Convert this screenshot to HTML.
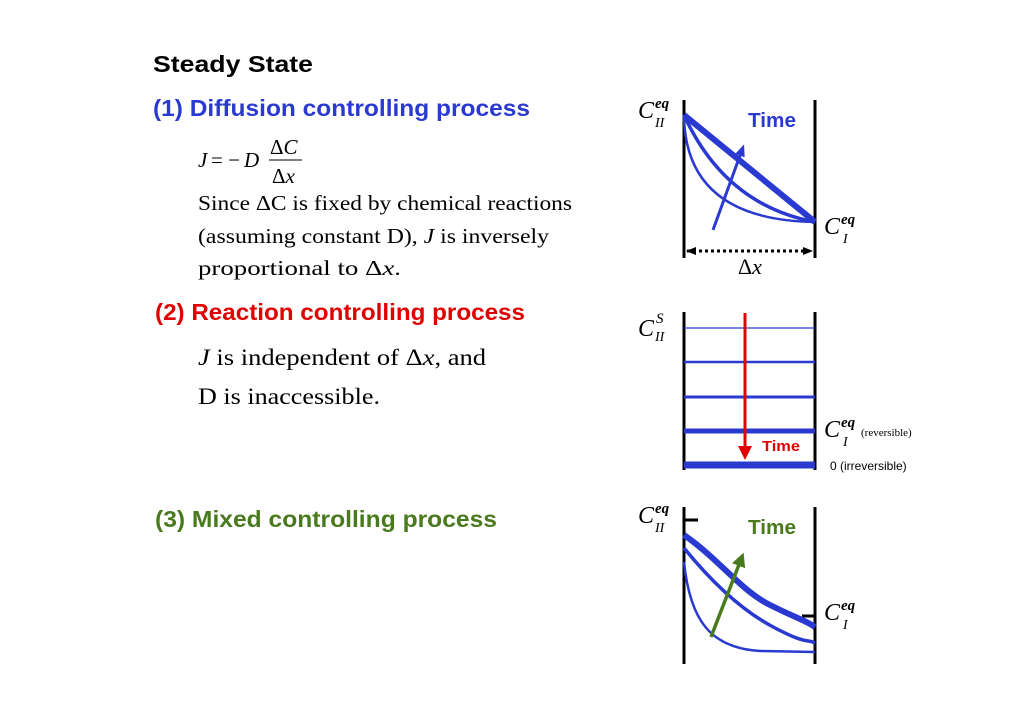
<!DOCTYPE html>
<html><head><meta charset="utf-8"><style>
html,body{margin:0;padding:0;background:#fff;}
svg{display:block;}
.h{font-family:"Liberation Sans",sans-serif;font-weight:bold;font-size:23px;}
.s{font-family:"Liberation Serif",serif;}
.i{font-style:italic;}
</style></head><body>
<svg width="1024" height="724" viewBox="0 0 1024 724" xmlns="http://www.w3.org/2000/svg">
<defs>
<marker id="ab" markerWidth="12" markerHeight="12" refX="6" refY="6" orient="auto" markerUnits="userSpaceOnUse"><path d="M0,1L12,6L0,11z" fill="#2a3ad0"/></marker>
<marker id="ar" markerWidth="14" markerHeight="14" refX="4" refY="7" orient="auto" markerUnits="userSpaceOnUse"><path d="M0,0L14,7L0,14z" fill="#e00000"/></marker>
<marker id="ag" markerWidth="14" markerHeight="14" refX="4" refY="7" orient="auto" markerUnits="userSpaceOnUse"><path d="M0,0L14,7L0,14z" fill="#4a7a1e"/></marker>
<marker id="ak" markerWidth="10" markerHeight="10" refX="9" refY="5" orient="auto-start-reverse" markerUnits="userSpaceOnUse"><path d="M0,1L10,5L0,9z" fill="#000"/></marker>
</defs>
<text class="h" x="153" y="72" textLength="160" lengthAdjust="spacingAndGlyphs" fill="#000">Steady State</text>
<text class="h" x="153" y="116" textLength="377" lengthAdjust="spacingAndGlyphs" fill="#2a3ad0">(1) Diffusion controlling process</text>
<g class="s" font-size="21">
<text x="198" y="167" class="i">J</text><text x="211" y="167">= −</text><text x="244" y="167" class="i">D</text>
<text x="270" y="154">Δ<tspan class="i">C</tspan></text>
<line x1="269" y1="160" x2="302" y2="160" stroke="#000" stroke-width="1"/>
<text x="272" y="183">Δ<tspan class="i">x</tspan></text>
<text x="198" y="210" textLength="374" lengthAdjust="spacingAndGlyphs">Since ΔC is fixed by chemical reactions</text>
<text x="198" y="243" textLength="351" lengthAdjust="spacingAndGlyphs">(assuming constant D), <tspan class="i">J</tspan> is inversely</text>
<text x="198" y="275" textLength="203" lengthAdjust="spacingAndGlyphs">proportional to Δ<tspan class="i">x</tspan>.</text>
</g>
<text class="h" x="155" y="320" textLength="370" lengthAdjust="spacingAndGlyphs" fill="#e00000">(2) Reaction controlling process</text>
<g class="s" font-size="23">
<text x="198" y="365" textLength="288" lengthAdjust="spacingAndGlyphs"><tspan class="i">J</tspan> is independent of Δ<tspan class="i">x</tspan>, and</text>
<text x="198" y="404" textLength="182" lengthAdjust="spacingAndGlyphs">D is inaccessible.</text>
</g>
<text class="h" x="155" y="527" textLength="342" lengthAdjust="spacingAndGlyphs" fill="#4a7a1e">(3) Mixed controlling process</text>

<!-- Diagram 1 -->
<g stroke="#000" stroke-width="3"><line x1="684" y1="100" x2="684" y2="258"/><line x1="815" y1="100" x2="815" y2="258"/></g>
<g fill="none" stroke="#2a3ad0">
<path d="M684,115 L815,222" stroke-width="6"/>
<path d="M684,115 Q725,205 815,222" stroke-width="3.5"/>
<path d="M684,115 Q685,220 815,222" stroke-width="2.5"/>
<line x1="713" y1="230" x2="742" y2="150" stroke-width="3" marker-end="url(#ab)"/>
</g>
<text class="h" x="748" y="127" style="font-size:20px" textLength="48" lengthAdjust="spacingAndGlyphs" fill="#2a3ad0">Time</text>
<line x1="687" y1="251" x2="812" y2="251" stroke="#000" stroke-width="3" stroke-dasharray="3,3" marker-end="url(#ak)" marker-start="url(#ak)"/>
<g class="s" font-size="24">
<text x="638" y="118" class="i">C</text><text x="655" y="127" font-size="14" class="i">II</text><text x="655" y="108" font-size="15" class="i" font-weight="bold">eq</text>
<text x="824" y="234" class="i">C</text><text x="843" y="243" font-size="14" class="i">I</text><text x="841" y="224" font-size="15" class="i" font-weight="bold">eq</text>
<text x="738" y="274" font-size="22">Δ<tspan class="i">x</tspan></text>
</g>

<!-- Diagram 2 -->
<g stroke="#000" stroke-width="3"><line x1="684" y1="312" x2="684" y2="470"/><line x1="815" y1="312" x2="815" y2="470"/></g>
<g stroke="#2a3ad0">
<line x1="684" y1="328" x2="815" y2="328" stroke-width="1.2"/>
<line x1="684" y1="362" x2="815" y2="362" stroke-width="2.5"/>
<line x1="684" y1="397" x2="815" y2="397" stroke-width="3"/>
<line x1="684" y1="431" x2="815" y2="431" stroke-width="5"/>
<line x1="684" y1="465" x2="815" y2="465" stroke-width="7"/>
</g>
<line x1="745" y1="313" x2="745" y2="450" stroke="#e00000" stroke-width="3" marker-end="url(#ar)"/>
<text class="h" x="762" y="451" style="font-size:15px" textLength="38" lengthAdjust="spacingAndGlyphs" fill="#e00000">Time</text>
<g class="s" font-size="24">
<text x="638" y="336" class="i">C</text><text x="655" y="341" font-size="14" class="i">II</text><text x="656" y="323" font-size="15" class="i">S</text>
<text x="824" y="437" class="i">C</text><text x="843" y="446" font-size="14" class="i">I</text><text x="841" y="427" font-size="15" class="i" font-weight="bold">eq</text>
<text x="861" y="436" font-size="11">(reversible)</text>
</g>
<text x="830" y="470" font-family="Liberation Sans,sans-serif" font-size="12">0 (irreversible)</text>

<!-- Diagram 3 -->
<g stroke="#000" stroke-width="3"><line x1="684" y1="507" x2="684" y2="664"/><line x1="815" y1="507" x2="815" y2="664"/>
<line x1="684" y1="520" x2="698" y2="520"/><line x1="802" y1="616" x2="815" y2="616"/></g>
<g fill="none" stroke="#2a3ad0">
<path d="M684,535 C720,560 740,590 770,605 S805,620 815,627" stroke-width="6"/>
<path d="M684,548 C710,580 740,610 775,628 S805,638 815,643" stroke-width="3.5"/>
<path d="M684,562 C690,620 710,648 760,651 L815,652" stroke-width="2.5"/>
</g>
<line x1="711" y1="637" x2="740" y2="562" stroke="#4a7a1e" stroke-width="3.5" marker-end="url(#ag)"/>
<text class="h" x="748" y="534" style="font-size:20px" textLength="48" lengthAdjust="spacingAndGlyphs" fill="#4a7a1e">Time</text>
<g class="s" font-size="24">
<text x="638" y="523" class="i">C</text><text x="655" y="532" font-size="14" class="i">II</text><text x="655" y="513" font-size="15" class="i" font-weight="bold">eq</text>
<text x="824" y="620" class="i">C</text><text x="843" y="629" font-size="14" class="i">I</text><text x="841" y="610" font-size="15" class="i" font-weight="bold">eq</text>
</g>
</svg>
</body></html>
